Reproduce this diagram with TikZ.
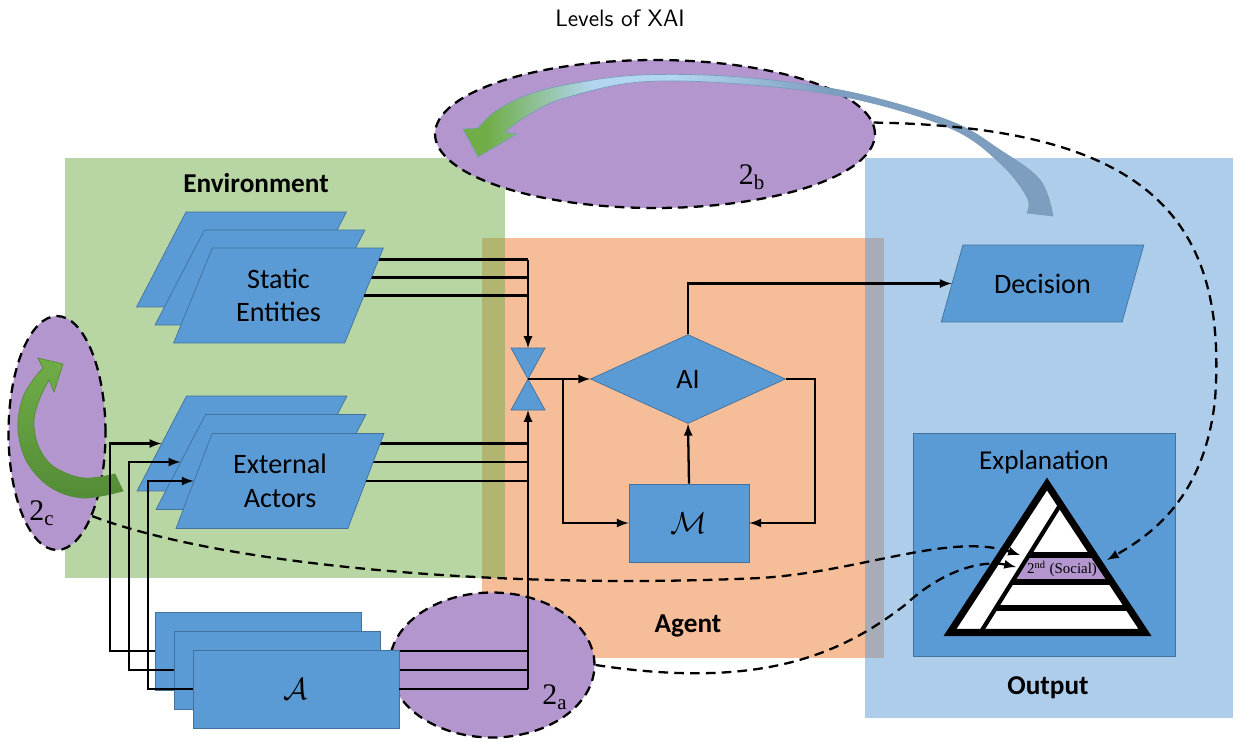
\documentclass[tikz,border=0pt]{standalone}
\usepackage{fontspec}
\setmainfont{Carlito}
\newfontfamily\serifnum{Liberation Serif}
\usepackage{tikz}
\usetikzlibrary{arrows,shapes,positioning}
\usepackage{xcolor}
\definecolor{xaiblue}{RGB}{91,155,213}
\definecolor{xaiblueline}{RGB}{65,113,156}
\definecolor{xaigreen}{RGB}{112,173,71}
\definecolor{xaidarkgreen}{RGB}{84,140,55}
\definecolor{xaiorange}{RGB}{246,190,152}
\definecolor{xaipurple}{RGB}{180,150,207}
\definecolor{xailight}{RGB}{178,214,240}
\definecolor{xaisteel}{RGB}{125,158,190}
\pgfdeclarehorizontalshading{bandshade}{100bp}{color(0bp)=(xaigreen); color(27bp)=(xaigreen); color(36bp)=(xailight); color(43bp)=(xailight); color(56bp)=(xaisteel); color(100bp)=(xaisteel)}
\tikzstyle{arrow} = [line width=1.3pt,->,>=latex]
\tikzstyle{link} = [line width=1.3pt]
\tikzstyle{dashlink} = [line width=1.3pt,dash pattern=on 5.5pt off 3.5pt,->,>=latex]
\tikzstyle{zone} = [ellipse, fill=xaipurple, draw=black, line width=1.3pt, dash pattern=on 5.5pt off 3.5pt]
\tikzstyle{blockpara} = [trapezium, trapezium left angle=66, trapezium right angle=114, trapezium stretches=true, minimum width=4.2cm, minimum height=1.9cm, inner sep=2pt, fill=xaiblue, draw=xaiblueline, align=center, font=\fontsize{16}{19}\selectfont]
\tikzstyle{blockrect} = [rectangle, fill=xaiblue, draw=xaiblueline, inner sep=2pt, font=\fontsize{17}{20}\selectfont]
\tikzstyle{layerlabel} = [font=\bfseries\fontsize{15.5}{18}\selectfont]
\tikzstyle{zonelabel} = [font=\serifnum\fontsize{17}{20}\selectfont]

\begin{document}
\begin{tikzpicture}[x=0.02cm, y=-0.02cm]
\useasboundingbox (0,0) rectangle (1241,741);

% layers
\fill[xaiorange] (482,238) rectangle (884,658);
\fill[xaigreen, fill opacity=0.5] (65,158) rectangle (505,578);
\fill[xaiblue, fill opacity=0.5] (865,158) rectangle (1233,718);

\node[font=\sffamily\fontsize{13.5}{16}\selectfont] (title) at (620,18) {Levels of XAI};
\node[layerlabel] (envlabel) at (256,183) {Environment};
\node[layerlabel] (agentlabel) at (688,626) {Agent};
\node[layerlabel] (outlabel) at (1048,688) {Output};

\node[zone, minimum width=8.8cm, minimum height=2.96cm] (e2b) at (655,134) {};
\node[zone, minimum width=1.94cm, minimum height=4.68cm] (e2c) at (57,433) {};
\node[zone, minimum width=4.1cm, minimum height=2.9cm] (e2a) at (492,665) {};

% curved arrow of 2c
\shade[top color=xaigreen, bottom color=xaidarkgreen, draw=xaidarkgreen, line width=0.4pt]
  plot[smooth, tension=0.6] coordinates {(123,491) (83,498) (50,487) (27,462) (18,430) (22,400) (33,380) (43,368)}
  -- (38,358) -- (63,364) -- (54,392) --
  plot[smooth, tension=0.6] coordinates {(49,380) (40,398) (34,420) (38,445) (53,466) (83,478) (115,474)} -- cycle;

% curved arrow of 2b
\shade[shading=bandshade, draw=xaiblueline!70, line width=0.4pt]
  plot[smooth, tension=0.6] coordinates {(1053,216) (1040,180) (1000,150) (950,121) (850,92) (740,77) (640,75) (570,84) (530,94) (497,110) (478,128)}
  -- (463,129) -- (478,157) -- (517,134) --
  plot[smooth, tension=0.6] coordinates {(505,132) (530,114) (565,98) (640,82) (740,84) (850,98) (950,128) (1000,163) (1027,197) (1027,213)} -- cycle;

\coordinate (hg) at (528,379);
\coordinate (hgtop) at (528,348);
\coordinate (hgbot) at (528,410);
\coordinate (split) at (563,379);

% static entities
\node[blockpara] (se1) at (241.5,259.5) {};
\draw[link] (se1.right side) -- (se1.right side -| hgtop);
\node[blockpara] (se2) at (260,277.5) {};
\draw[link] (se2.right side) -- (se2.right side -| hgtop);
\node[blockpara] (se3) at (278.5,295.5) {Static\\Entities};
\draw[link] (se3.right side) -- (se3.right side -| hgtop);
\draw[arrow] (se1.right side -| hgtop) -- (hgtop);

% external actors
\node[blockpara] (ea1) at (242,443.5) {};
\draw[link] (ea1.right side) -- (ea1.right side -| hgbot);
\node[blockpara] (ea2) at (261,462) {};
\draw[link] (ea2.right side) -- (ea2.right side -| hgbot);
\node[blockpara] (ea3) at (280,481) {External\\Actors};
\draw[link] (ea3.right side) -- (ea3.right side -| hgbot);

% agents
\node[blockrect, minimum width=4.12cm, minimum height=1.56cm] (ag1) at (258,651) {};
\draw[link] (ag1.east) -- (ag1.east -| hgbot);
\draw[arrow] (ag1.west) -- ++(-45,0) |- (ea1.left side);
\node[blockrect, minimum width=4.12cm, minimum height=1.56cm] (ag2) at (277,670) {};
\draw[link] (ag2.east) -- (ag2.east -| hgbot);
\draw[arrow] (ag2.west) -- ++(-45,0) |- (ea2.left side);
\node[blockrect, minimum width=4.12cm, minimum height=1.56cm] (ag3) at (296,689) {$\mathcal{A}$};
\draw[link] (ag3.east) -- (ag3.east -| hgbot);
\draw[arrow] (ag3.west) -- ++(-45,0) |- (ea3.left side);
\draw[arrow] (ag3.east -| hgbot) -- (hgbot);

% agent
\filldraw[fill=xaiblue, draw=xaiblueline] (511,348) -- (545,348) -- (hg) -- cycle;
\filldraw[fill=xaiblue, draw=xaiblueline] (511,410) -- (545,410) -- (hg) -- cycle;
\node[diamond, aspect=2.2, minimum width=3.9cm, minimum height=1.78cm, inner sep=0pt, fill=xaiblue, draw=xaiblueline, font=\fontsize{16}{19}\selectfont] (ai) at (688,379) {AI};
\node[blockrect, minimum width=2.4cm, minimum height=1.56cm] (mm) at (689,523) {$\mathcal{M}$};
\node[blockpara, trapezium left angle=62, trapezium right angle=118, minimum width=4.06cm, minimum height=1.54cm] (dec) at (1042.5,283.5) {Decision};

\draw[arrow] (hg) -- (ai.west);
\draw[arrow] (split) |- (mm.west);
\draw[arrow] (ai.east) -- ++(29,0) |- (mm.east);
\draw[arrow] (mm.north) -- (ai.south);
\draw[arrow] (ai.north) |- (dec.left side);

% output
\node[blockrect, minimum width=5.24cm, minimum height=4.46cm] (expl) at (1044,544.5) {};
\node[font=\fontsize{15.5}{18}\selectfont] (expltext) at (1044,462) {Explanation};
\begin{scope}
  \clip (1047,484) -- (950,632.5) -- (1145,632.5) -- cycle;
  \fill[white] (1047,484) -- (950,632.5) -- (1145,632.5) -- cycle;
  \fill[xaipurple] (1027,558) -- (1100,558) -- (1115,579) -- (1014,579) -- cycle;
  \draw[line width=2.4pt] (1062,502) -- (979,635);
  \draw[line width=3.2pt] (1029,555) -- (1160,555);
  \draw[line width=3pt] (1012,582) -- (1160,582);
  \draw[line width=3.2pt] (996,608) -- (1160,608);
\end{scope}
\draw[line width=4pt, line join=miter] (1047,484) -- (950,632.5) -- (1145,632.5) -- cycle;
\node[font=\serifnum\fontsize{8.5}{10}\selectfont, inner sep=0pt] (social) at (1062,569) {2\textsuperscript{nd} (Social)};
\coordinate (tgta) at (1016,567);
\coordinate (tgtb) at (1107,560);
\coordinate (tgtc) at (1020,555);

\draw[dashlink] (e2b.3) .. controls (1150,127) and (1228,220) .. (1215,400) .. controls (1205,490) and (1160,530) .. (tgtb);
\draw[dashlink] (e2c.-67) .. controls (220,565) and (500,590) .. (760,578) .. controls (860,572) and (950,532) .. (tgtc);
\draw[dashlink] (e2a.east) .. controls (760,690) and (840,655) .. (905,605) .. controls (945,568) and (985,560) .. (tgta);

\node[zonelabel] (lbl2b) at (752,177) {2\textsubscript{b}};
\node[zonelabel] (lbl2c) at (42,513) {2\textsubscript{c}};
\node[zonelabel] (lbl2a) at (555,697) {2\textsubscript{a}};
\end{tikzpicture}
\end{document}
